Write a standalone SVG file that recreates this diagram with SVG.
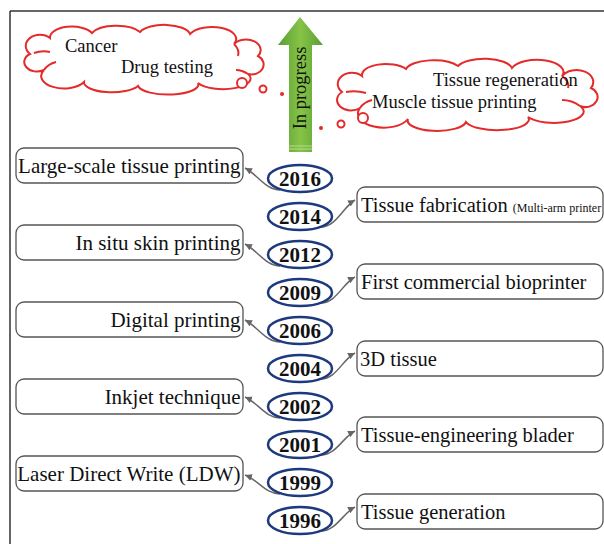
<svg xmlns="http://www.w3.org/2000/svg" width="604" height="544" viewBox="0 0 604 544">
<defs>
<style>
.box{fill:#fff;stroke:#555;stroke-width:1.3}
.bt{font-family:"Liberation Serif","Times New Roman",serif;font-size:20.5px;fill:#111}
.lt{font-family:"Liberation Serif","Times New Roman",serif;font-size:21px;fill:#111;text-anchor:end}
.yr{fill:#fff;stroke:#1d3a7e;stroke-width:2.5}
.yt{font-family:"Liberation Serif","Times New Roman",serif;font-size:21px;font-weight:bold;fill:#111;text-anchor:middle}
.cloud{fill:#fff;stroke:#e32b2b;stroke-width:2}
.inner{fill:none;stroke:#e32b2b;stroke-width:2}
.ct{font-family:"Liberation Serif","Times New Roman",serif;font-size:18.5px;fill:#111}
.con{fill:none;stroke:#666;stroke-width:1.5;marker-end:url(#ah)}
</style>
<marker id="ah" markerWidth="8" markerHeight="8" refX="7" refY="4" orient="auto" markerUnits="userSpaceOnUse">
<path d="M0,0.5 L7,4 L0,7.5 Z" fill="#666"/>
</marker>
<linearGradient id="grn" x1="0" y1="0" x2="1" y2="0">
<stop offset="0" stop-color="#5a9e33"/>
<stop offset="0.5" stop-color="#86c447"/>
<stop offset="1" stop-color="#5a9e33"/>
</linearGradient>
</defs>

<g id="frame">
<line x1="10" y1="11" x2="604" y2="11" stroke="#333" stroke-width="1.5"/>
<line x1="10" y1="11" x2="10" y2="544" stroke="#333" stroke-width="1.5"/>
</g>

<g id="arrow-progress">
<polygon points="300,17 323,45 312,45 312,152 289,152 289,45 278,45" fill="url(#grn)"/>
<line x1="289" y1="146" x2="312" y2="146" stroke="#b5dc8c" stroke-width="1"/>
<line x1="289" y1="149" x2="312" y2="149" stroke="#b5dc8c" stroke-width="1"/>
<text transform="translate(306,88) rotate(-90)" text-anchor="middle" font-family="Liberation Serif, Times New Roman, serif" font-size="18.5" fill="#111">In progress</text>
</g>

<g id="cloud-left">
<path class="cloud" d="M 30 54 A 14 11 0 0 1 50 38 A 22 11 0 0 1 92 33 A 26 11 0 0 1 140 32 A 26 11 0 0 1 190 34 A 24 12 0 0 1 234 44 A 14 10 0 0 1 258 56 A 12 10 0 0 1 248 74 A 26 10 0 0 1 198 83 A 30 10 0 0 1 138 86 A 28 10 0 0 1 84 82 A 22 12 0 0 1 44 70 A 12 9 0 0 1 30 54 Z"/>
<path class="inner" d="M 34 53 Q 42 50 50 52 M 44 70 Q 48 64 56 62 M 234 44 Q 240 50 238 56 M 248 74 Q 242 70 236 70"/>
<circle cx="242" cy="83" r="5" fill="#fff" stroke="#e32b2b" stroke-width="2"/>
<circle cx="263" cy="89" r="3.5" fill="#fff" stroke="#e32b2b" stroke-width="2"/>
<circle cx="282" cy="94" r="2" fill="#e32b2b"/>
<text class="ct" x="65" y="52">Cancer</text>
<text class="ct" x="121" y="73">Drug testing</text>
</g>

<g id="cloud-right">
<path class="cloud" d="M 342 92 A 14 11 0 0 1 362 76 A 24 11 0 0 1 406 69 A 28 11 0 0 1 458 66 A 28 11 0 0 1 512 68 A 26 12 0 0 1 562 76 A 14 10 0 0 1 591 88 A 12 10 0 0 1 580 106 A 26 10 0 0 1 528 117 A 30 10 0 0 1 466 122 A 28 10 0 0 1 408 119 A 22 12 0 0 1 360 108 A 12 9 0 0 1 342 92 Z"/>
<path class="inner" d="M 346 92 Q 356 90 366 93 M 360 108 Q 364 102 372 100 M 562 76 Q 570 82 568 88 M 580 106 Q 572 100 562 100"/>
<circle cx="363" cy="118" r="5" fill="#fff" stroke="#e32b2b" stroke-width="2"/>
<circle cx="341" cy="124" r="3.5" fill="#fff" stroke="#e32b2b" stroke-width="2"/>
<circle cx="321" cy="128" r="2" fill="#e32b2b"/>
<text class="ct" x="433" y="86">Tissue regeneration</text>
<text class="ct" x="372" y="108">Muscle tissue printing</text>
</g>

<g id="connectors">
<path class="con" d="M 280 190 C 266 190, 258 175, 245 168"/>
<path class="con" d="M 280 266 C 266 266, 258 251, 245 244"/>
<path class="con" d="M 280 342 C 266 342, 258 327, 245 320"/>
<path class="con" d="M 280 418 C 266 418, 258 403, 245 397"/>
<path class="con" d="M 280 494 C 266 494, 258 480, 245 475"/>
<path class="con" d="M 321 227 C 336 227, 343 207, 355 200"/>
<path class="con" d="M 321 303 C 336 303, 343 283, 355 277"/>
<path class="con" d="M 321 379 C 336 379, 343 359, 355 353"/>
<path class="con" d="M 321 455 C 336 455, 343 437, 355 431"/>
<path class="con" d="M 321 531 C 336 531, 343 513, 355 507"/>
</g>

<g id="y2016"><ellipse class="yr" cx="300" cy="178.5" rx="32" ry="13.5"/><text class="yt" x="300" y="186">2016</text></g>
<g id="y2014"><ellipse class="yr" cx="300" cy="216.5" rx="32" ry="13.5"/><text class="yt" x="300" y="224">2014</text></g>
<g id="y2012"><ellipse class="yr" cx="300" cy="254.5" rx="32" ry="13.5"/><text class="yt" x="300" y="262">2012</text></g>
<g id="y2009"><ellipse class="yr" cx="300" cy="292.5" rx="32" ry="13.5"/><text class="yt" x="300" y="300">2009</text></g>
<g id="y2006"><ellipse class="yr" cx="300" cy="330.5" rx="32" ry="13.5"/><text class="yt" x="300" y="338">2006</text></g>
<g id="y2004"><ellipse class="yr" cx="300" cy="368.5" rx="32" ry="13.5"/><text class="yt" x="300" y="376">2004</text></g>
<g id="y2002"><ellipse class="yr" cx="300" cy="406.5" rx="32" ry="13.5"/><text class="yt" x="300" y="414">2002</text></g>
<g id="y2001"><ellipse class="yr" cx="300" cy="444.5" rx="32" ry="13.5"/><text class="yt" x="300" y="452">2001</text></g>
<g id="y1999"><ellipse class="yr" cx="300" cy="482.5" rx="32" ry="13.5"/><text class="yt" x="300" y="490">1999</text></g>
<g id="y1996"><ellipse class="yr" cx="300" cy="520.5" rx="32" ry="13.5"/><text class="yt" x="300" y="528">1996</text></g>

<g id="box-large-scale"><rect class="box" x="16" y="148" width="227" height="35" rx="8"/><text class="lt" x="240.5" y="172.5">Large-scale tissue printing</text></g>
<g id="box-in-situ"><rect class="box" x="16" y="225" width="227" height="35" rx="8"/><text class="lt" x="240.5" y="249.5">In situ skin printing</text></g>
<g id="box-digital"><rect class="box" x="16" y="302" width="227" height="35" rx="8"/><text class="lt" x="240.5" y="326.5">Digital printing</text></g>
<g id="box-inkjet"><rect class="box" x="16" y="379" width="227" height="35" rx="8"/><text class="lt" x="240.5" y="403.5">Inkjet technique</text></g>
<g id="box-ldw"><rect class="box" x="16" y="456" width="227" height="35" rx="8"/><text class="lt" x="240.5" y="480.5">Laser Direct Write (LDW)</text></g>

<g id="box-fabrication"><rect class="box" x="357" y="187" width="246" height="35" rx="8"/><text class="bt" x="361" y="212">Tissue fabrication <tspan font-size="12">(Multi-arm printer</tspan></text></g>
<g id="box-commercial"><rect class="box" x="357" y="264" width="246" height="35" rx="8"/><text class="bt" x="361" y="289">First commercial bioprinter</text></g>
<g id="box-3d"><rect class="box" x="357" y="341" width="246" height="35" rx="8"/><text class="bt" x="360" y="366">3D tissue</text></g>
<g id="box-bladder"><rect class="box" x="357" y="417" width="246" height="35" rx="8"/><text class="bt" x="361" y="442">Tissue-engineering blader</text></g>
<g id="box-generation"><rect class="box" x="357" y="494" width="246" height="35" rx="8"/><text class="bt" x="361" y="519">Tissue generation</text></g>
</svg>
